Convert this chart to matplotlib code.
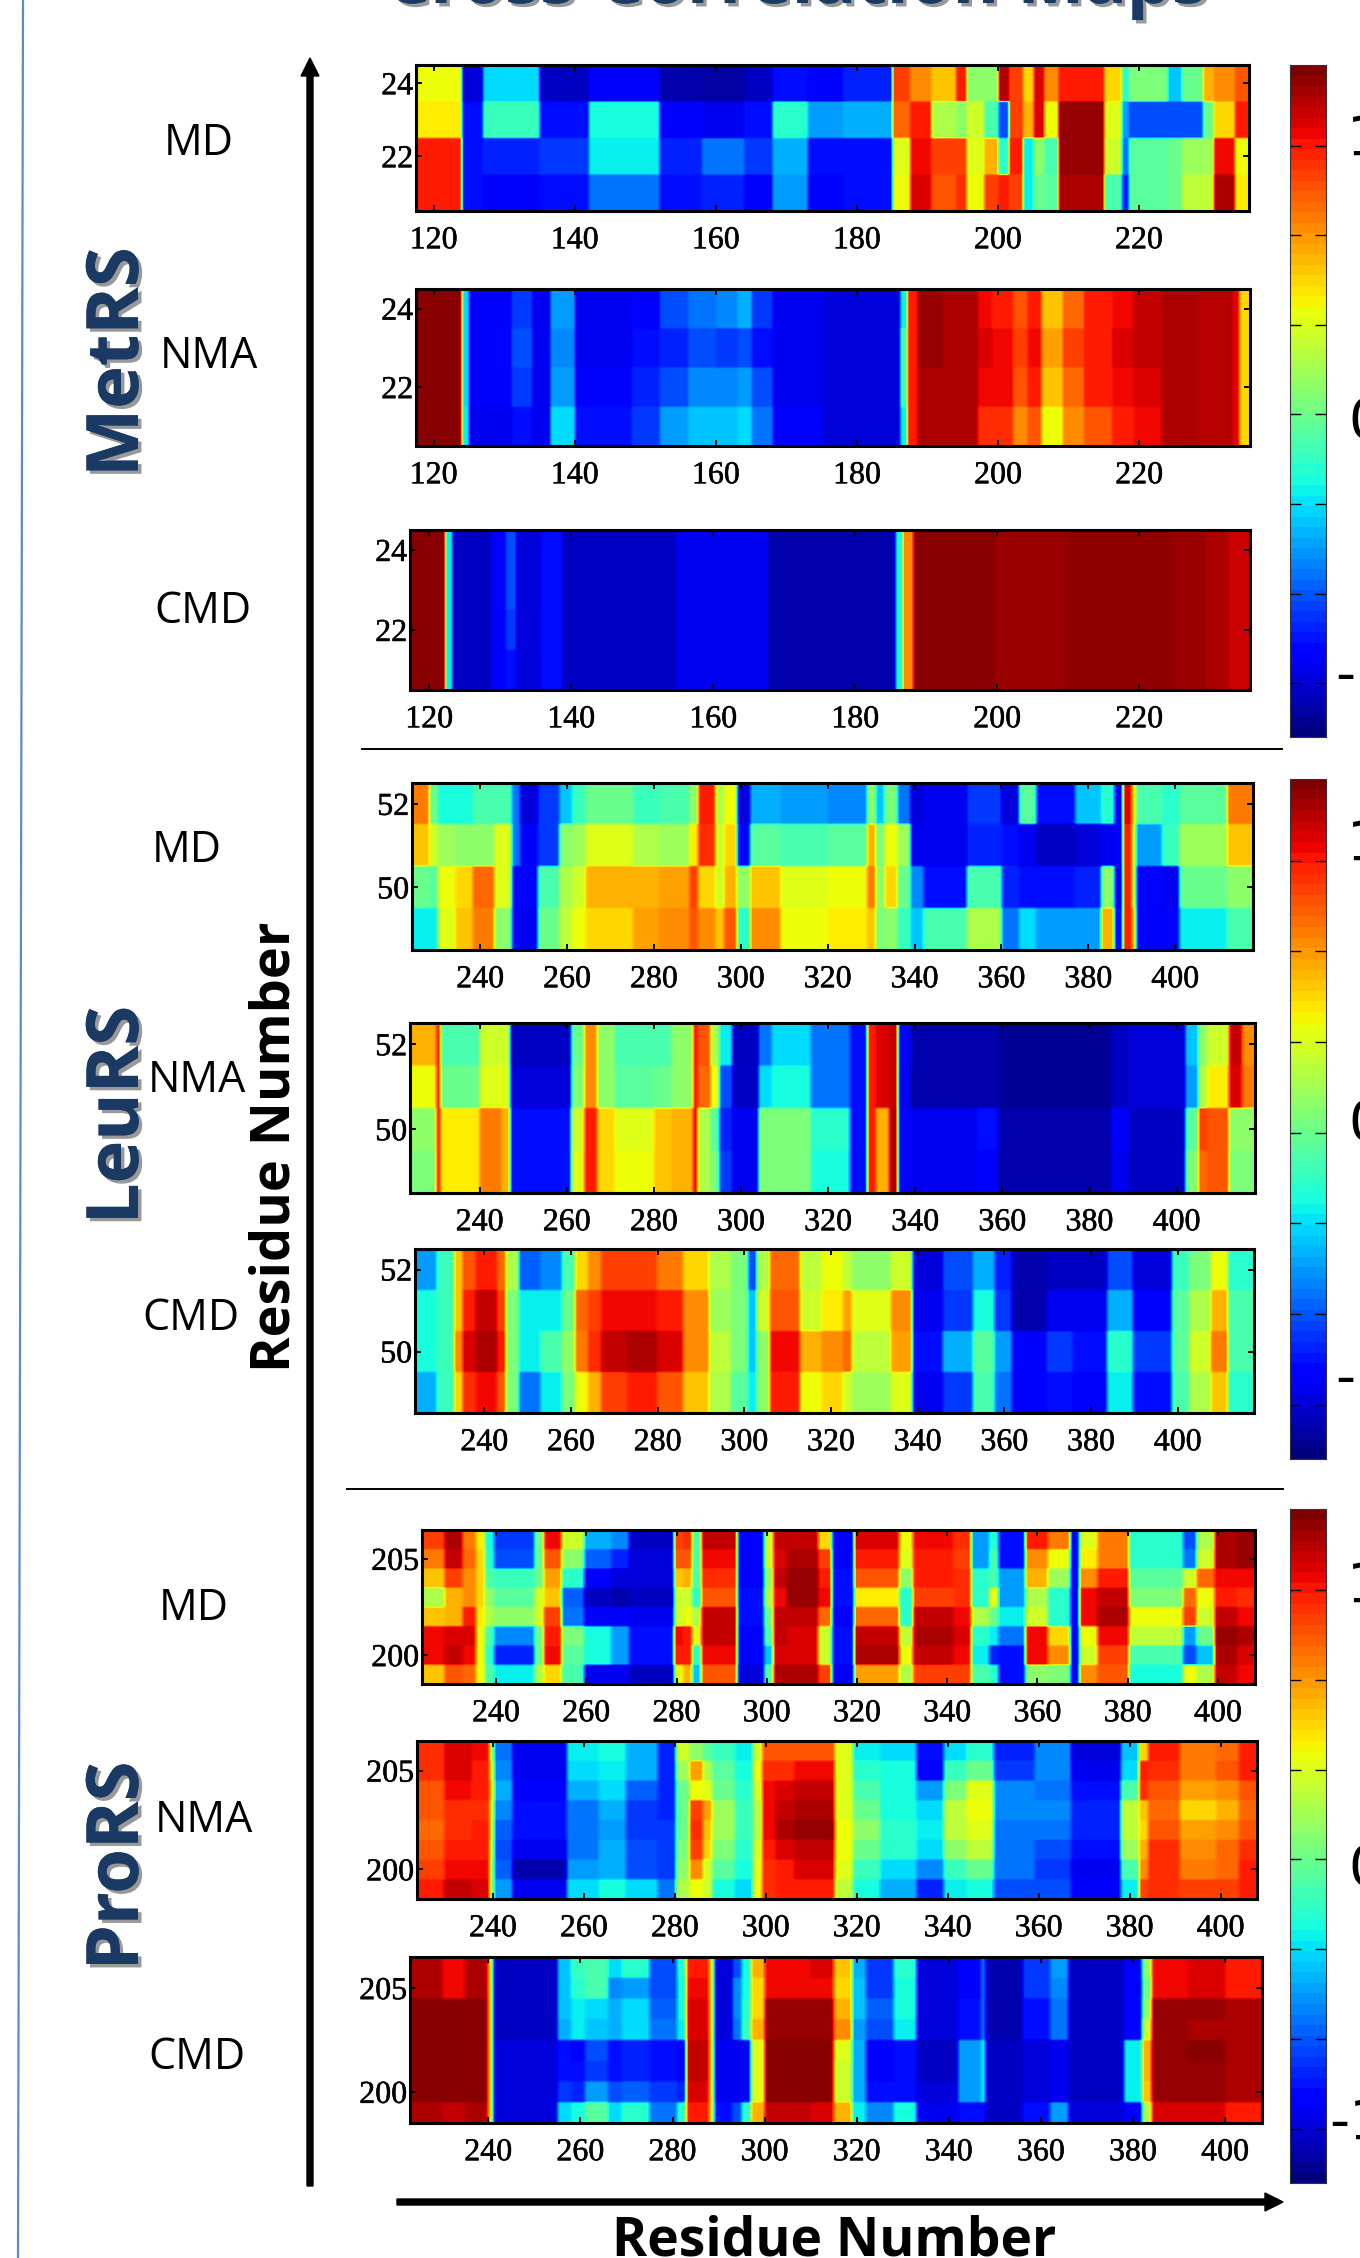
import numpy as np
import matplotlib
matplotlib.use("Agg")
import matplotlib.pyplot as plt
import matplotlib.patheffects as pe

W, H = 1360, 2258
VMIN, VMAX = -1.2, 1.3
CBAR_TICKS = [-1, -2 / 3, -1 / 3, 0, 1 / 3, 2 / 3, 1]

# each values list has one entry per residue block, rows given top to bottom
MET_MD_EDGES = [117.5, 124, 127, 135, 142, 152, 158, 164, 168, 173, 178, 185, 187.5, 190.5, 194, 195.5, 198, 200, 201.5, 203.5, 205, 206.5, 208.5, 215, 217.5, 218.5, 224, 226, 229, 230.5, 233.5, 235.6]
MET_MD_VALUES = [
    [.4, .45, 1.0, 1.0], [-1.0, -.85, -.85, -.85], [-.35, -.15, -.8, -.9], [-1.05, -.85, -.75, -.85],
    [-.9, -.25, -.3, -.6], [-1.1, -.9, -.8, -.85], [-1.12, -.95, -.6, -.8], [-1.05, -.85, -.75, -.9],
    [-.85, -.2, -.45, -.5], [-.9, -.5, -.85, -.9], [-.8, -.45, -.85, -.85], [.9, .8, .35, .4],
    [.7, 1.0, 1.05, 1.1], [.55, .2, .9, .85], [1.0, .1, .9, .95], [.1, .3, .35, .4],
    [.1, -.1, .6, .9], [1.2, -.7, -.2, 1.0], [.9, .9, 1.0, .9], [.5, .6, -.3, -.3],
    [1.1, 1.1, .1, 0], [.7, .4, -.1, -.05], [1.0, 1.25, 1.25, 1.2], [.5, .35, .3, -.1],
    [-.2, -.5, -.6, -.8], [.05, -.7, -.05, -.05], [-.4, -.7, 0, 0], [0, -.7, .15, .25],
    [.6, 0, .15, .25], [.7, .5, 1.05, 1.2], [.85, 1.0, .4, .45],
]

MET_NMA_EDGES = [117.5, 124, 125, 131, 134, 136.5, 140, 148, 152, 156, 160, 163, 165, 168, 175, 186, 187, 188.5, 192, 197, 199, 202, 204, 206, 209, 212, 216, 219, 223, 228, 233, 234, 235.7]
MET_NMA_VALUES = [
    [1.28, 1.28, 1.28, 1.28], [-.35, -.35, -.35, -.3], [-.9, -.9, -.9, -.95], [-.75, -.7, -.75, -.85],
    [-.95, -.95, -.95, -.95], [-.5, -.55, -.5, -.35], [-.95, -.95, -.9, -.85], [-.9, -.85, -.8, -.75],
    [-.7, -.8, -.7, -.5], [-.6, -.7, -.55, -.4], [-.55, -.75, -.55, -.4], [-.45, -.7, -.5, -.35],
    [-.75, -.85, -.7, -.6], [-.95, -.95, -.95, -.9], [-1.0, -1.0, -1.0, -1.0], [-.3, -.15, -.15, -.3],
    [1.0, 1.0, 1.0, 1.0], [1.25, 1.25, 1.2, 1.2], [1.2, 1.2, 1.2, 1.2], [1.05, 1.1, 1.05, .95],
    [1.0, 1.05, 1.05, .95], [.85, .9, .85, .7], [1.0, 1.05, 1.0, .85], [.55, .65, .55, .4],
    [.8, .9, .8, .7], [1.0, 1.0, 1.0, .85], [1.05, 1.1, 1.05, 1.0], [1.15, 1.15, 1.1, 1.05],
    [1.2, 1.2, 1.2, 1.2], [1.18, 1.18, 1.18, 1.18], [1.08, 1.08, 1.08, 1.08], [.5, .5, .5, .5],
]

MET_CMD_EDGES = [117.3, 122.5, 123.5, 129, 131, 132.5, 136, 139, 155, 168, 186, 187, 188.5, 200, 210, 225, 230, 233, 235.6]
MET_CMD_VALUES = [
    [1.28, 1.28, 1.28, 1.28], [-.3, -.3, -.3, -.3], [-1.05, -1.05, -1.05, -1.05], [-.9, -.9, -.9, -.9],
    [-.7, -.7, -.75, -.85], [-1.0, -1.0, -1.0, -1.0], [-.85, -.85, -.85, -.85], [-1.05, -1.05, -1.05, -1.05],
    [-.95, -.95, -.95, -.95], [-1.1, -1.1, -1.1, -1.1], [-.25, -.25, -.25, -.25], [.7, .7, .7, .7],
    [1.28, 1.28, 1.28, 1.28], [1.24, 1.24, 1.24, 1.24], [1.26, 1.26, 1.26, 1.26], [1.24, 1.24, 1.24, 1.24],
    [1.2, 1.2, 1.2, 1.2], [1.13, 1.13, 1.13, 1.13],
]

LEU_MD_EDGES = [224.3, 228, 230.3, 234, 238.5, 243, 247, 249, 253.5, 258, 261.7, 264.7, 275, 281, 288, 290, 294, 296, 299, 302, 309.5, 320, 329, 331, 333.5, 336.5, 339.5, 342.5, 352, 360, 364, 368, 377.5, 383, 386.5, 388, 390.3, 391.7, 397.7, 401.5, 412.6, 417.9]
LEU_MD_VALUES = [
    [.75, .55, 0, -.3], [0, .3, -.05, -.3], [-.25, .15, .4, .35], [-.25, .1, .5, .55],
    [-.1, .1, .8, .75], [-.1, .35, .35, .1], [-.6, -.6, -.9, -.9], [-1.0, -.9, -.9, -.95],
    [-.75, -.75, -.1, 0], [-.4, .1, .2, .25], [-.15, .15, .3, .4], [0, .35, .6, .5],
    [-.15, .2, .6, .65], [-.1, .15, .65, .7], [.1, .45, .9, .85], [1.0, .95, .5, .7],
    [.2, .3, .3, .55], [.4, .5, .6, .85], [-1.0, -.9, .1, -.2], [-.45, -.05, .55, .7],
    [-.5, -.1, .35, .4], [-.55, -.05, .4, .45], [.1, .6, .75, .55], [-.4, .05, .1, .05],
    [.05, .4, .5, .1], [-.6, .15, 0, -.15], [-1.0, -.95, -.55, -.4], [-.95, -.95, -.85, -.1],
    [-.75, -.8, -.1, .2], [-1.0, -.85, -.8, -.6], [-.05, -.95, -.85, -.35], [-.85, -1.05, -.85, -.5],
    [-.4, -1.0, -.8, -.5], [-.2, -.95, .1, .6], [-.9, -.9, -.95, -.85], [1.1, 1.0, 1.0, 1.0],
    [.5, .4, .4, .6], [-.1, -.5, -.9, -.9], [-.2, -.15, -.95, -.9], [-.05, .15, 0, -.3],
    [.75, .55, .1, -.1],
]

LEU_NMA_EDGES = [224, 230, 231.3, 240, 244.5, 247, 261, 264, 267, 270.6, 279.6, 284, 288.6, 290.4, 293, 295.3, 297.5, 303.5, 306.5, 316, 325, 329, 330.5, 333.5, 336.4, 339.4, 354, 359, 385, 388.7, 402, 404.5, 406.6, 412, 415, 418]
LEU_NMA_VALUES = [
    [.6, .4, .1, .05], [1.0, 1.0, 1.0, 1.0], [-.1, 0, .45, .45], [.3, .35, .75, .75],
    [.3, .35, .6, .6], [-1.05, -1.0, -.85, -.85], [0, .05, .3, .35], [.7, .7, 1.0, 1.0],
    [.1, .1, .5, .5], [-.1, -.05, .35, .4], [-.1, 0, .55, .55], [.1, .1, .6, .6],
    [1.05, 1.05, 1.1, 1.1], [.85, .8, .2, .2], [.2, .4, -.05, .05], [-.3, -.7, -.8, -.75],
    [-1.05, -1.05, -.95, -.95], [-.6, -.35, .05, .05], [-.35, -.25, .05, .05], [-.6, -.6, -.2, -.25],
    [-.85, -.85, -.85, -.85], [1.0, 1.0, 1.0, 1.0], [1.1, 1.1, .6, .6], [1.15, 1.15, 1.2, 1.2],
    [-.9, -.95, -.9, -.9], [-1.1, -1.1, -.95, -.95], [-1.1, -1.1, -.85, -.9], [-1.15, -1.15, -1.1, -1.1],
    [-1.05, -1.05, -.9, -.95], [-1.0, -1.0, -1.05, -1.05], [-.4, -.5, -.05, .05], [.1, .2, .9, .8],
    [.3, .45, .85, .85], [1.15, 1.1, .1, .05], [.7, .75, .1, .05],
]

LEU_CMD_EDGES = [224, 229.2, 233, 235, 238, 243, 245, 248, 253, 257.7, 260.7, 263.7, 266.7, 272.7, 280, 286, 291.5, 296.7, 301, 302.7, 305.7, 312.5, 318, 322.5, 325.3, 334.3, 338.8, 346.3, 353, 358.3, 362, 369.6, 376.3, 383.9, 390, 399, 403.4, 408, 411.6, 417.6]
LEU_CMD_VALUES = [
    [-.5, -.25, -.25, -.45], [-.15, -.15, -.15, -.15], [.55, .55, .7, .5], [.85, 1.0, 1.1, .95],
    [1.0, 1.15, 1.2, 1.05], [.8, .9, 1.0, .85], [.2, .05, .05, .05], [-.65, -.3, -.3, -.6],
    [-.55, -.3, -.1, -.3], [-.1, 0, .1, .05], [.5, .8, .75, .4], [.7, .9, .95, .6],
    [.9, 1.05, 1.15, .9], [.9, 1.05, 1.2, 1.0], [.75, 1.0, 1.1, .85], [.5, .7, .7, .55],
    [.2, .15, .25, .2], [.05, .05, .05, -.05], [-.7, -.4, -.4, -.3], [.2, .3, .1, .1],
    [.8, .85, 1.05, 1.0], [.25, .3, .6, .4], [.4, .45, .7, .5], [.25, .65, .8, .3],
    [.1, .35, .25, .15], [.3, .7, .65, .35], [-1.0, -.95, -.85, -.95], [-.7, -.75, -.45, -.75],
    [-.45, -.25, -.05, -.1], [-.8, -.75, -.5, -.6], [-1.1, -1.1, -.9, -.9], [-1.05, -.95, -.75, -.85],
    [-1.05, -.95, -.85, -.9], [-.7, -.45, -.2, -.3], [-1.0, -.9, -.75, -.85], [-.15, -.05, -.05, -.1],
    [.05, .2, .3, .2], [.4, .6, .75, .55], [-.2, -.1, -.1, -.2],
]

PRO_MD_EDGES = [223.6, 228.5, 233, 235.7, 237.4, 240, 248.6, 250.5, 254.4, 260, 265.9, 269.5, 279.6, 281.8, 284, 285.4, 293.3, 299.8, 302, 305, 311.3, 315, 319.3, 329.3, 332.2, 341.6, 345.9, 349.5, 352, 358, 362.5, 368, 369.5, 373.7, 381, 392.6, 395.5, 400, 405, 408.2]
PRO_MD_VALUES = [
    [.9, .75, .55, .2, .55, 1.05, 1.05, .55], [1.2, 1.15, .9, .6, .6, 1.1, 1.15, .85],
    [.75, .8, .7, .7, 1.0, 1.1, 1.05, .8], [.45, .5, .5, .5, .45, .4, .4, .4],
    [-.25, -.2, -.1, .1, .2, -.1, -.2, -.1], [-.75, -.7, -.15, -.05, .1, -.55, -.8, -.3],
    [0, 0, 0, .3, .3, 0, 0, .2], [1.05, .85, .65, .55, .9, 1.0, 1.05, .5],
    [.3, .1, -.2, -.65, -.6, .05, -.05, -.1], [-.45, -.65, -.9, -1.05, -.9, -.25, -.25, -.95],
    [-.55, -.8, -1.0, -1.1, -.9, -.5, -.5, -.95], [-1.05, -1.0, -1.0, -1.05, -.95, -.85, -.85, -1.05],
    [.9, .85, .55, .3, .3, 1.05, 1.0, .4], [.95, .85, .6, .3, .4, 1.0, 1.0, .6],
    [-.1, -.1, -.1, -.2, .2, .35, -.2, -.4], [1.15, 1.05, .95, .85, 1.15, 1.15, 1.05, .85],
    [-.9, -.9, -.9, -.85, -.85, -.9, -.9, -1.0], [.3, .3, .1, .2, 0, -.1, -.4, -.1],
    [1.15, 1.1, 1.15, 1.05, 1.15, 1.15, 1.1, 1.2], [1.15, 1.2, 1.25, 1.25, 1.15, 1.1, 1.1, 1.2],
    [.5, .9, 1.0, 1.05, .8, .3, .3, .9], [-.9, -.9, -.85, -.85, -.9, -.85, -.85, -.95],
    [1.1, 1.0, .85, .45, .8, 1.15, 1.2, .65], [.4, .35, .1, -.2, -.2, .25, .4, .2],
    [1.05, 1.0, 1.0, .9, 1.15, 1.2, 1.15, .9], [.95, .9, .95, .95, 1.05, 1.1, 1.05, .9],
    [-.5, -.5, -.2, -.2, .2, -.2, -.3, -.1], [-.2, -.1, -.1, .4, 0, -.3, -.8, -.2],
    [-.85, -.85, -.5, -.5, -.3, -.6, -.85, -.85], [1.0, .7, .6, .2, .3, 1.05, 1.05, .1],
    [.75, .4, .15, -.2, -.2, .5, .7, .05], [-.9, -.9, -.9, -.9, -.9, -.9, -.9, -.9],
    [.35, .45, .7, 1.05, 1.05, .4, .3, .7], [.75, .75, 1.0, 1.15, 1.2, 1.05, .9, .85],
    [-.2, -.2, -.05, .05, .4, .25, -.1, -.25], [-.7, -.6, .3, .8, .9, -.5, -.7, .4],
    [.2, .3, .8, .4, .3, 0, -.4, .2], [1.2, 1.2, 1.05, 1.0, 1.15, 1.25, 1.2, 1.15],
    [1.25, 1.25, 1.05, .95, 1.05, 1.2, 1.1, 1.05],
]

PRO_NMA_EDGES = [223.3, 229, 235, 239, 240.7, 244.3, 256.5, 263, 269.4, 276.5, 280, 283, 286, 288.6, 293.7, 297.3, 299.5, 302.3, 306.6, 315, 319.5, 325.2, 333, 338.8, 344.6, 350.3, 359.6, 366.8, 378.3, 382.5, 384, 391, 399, 404.7, 408]
PRO_NMA_VALUES = [
    [.95, .95, .85, .85, .8, .85, .9, 1.0], [1.1, 1.1, 1.05, .95, .95, 1.0, 1.05, 1.15],
    [1.05, 1.0, 1.0, .95, 1.0, 1.0, 1.05, 1.1], [.2, .4, .5, .4, .4, .3, .2, .15],
    [-.6, -.55, -.45, -.55, -.65, -.7, -.65, -.5], [-.95, -.95, -.9, -.85, -.85, -.95, -1.1, -.95],
    [-.3, -.35, -.45, -.6, -.6, -.6, -.5, -.35], [-.25, -.3, -.35, -.45, -.5, -.45, -.45, -.25],
    [-.45, -.45, -.65, -.75, -.75, -.7, -.7, -.35], [-.8, -.8, -.8, -.8, -.75, -.75, -.75, -.6],
    [.3, .15, 0, 0, 0, .05, .1, .2], [.1, .65, .4, .9, .95, .9, .7, .4],
    [-.05, .2, .35, .65, .55, .5, .3, .3], [-.15, -.05, 0, .15, .15, .05, -.05, -.25],
    [-.3, -.25, -.2, -.15, -.15, -.2, -.25, -.35], [.3, .4, .3, .2, .2, .3, .35, .4],
    [.85, .95, 1.05, 1.05, 1.05, 1.0, .95, .95], [.85, .95, 1.1, 1.15, 1.2, 1.1, 1.0, 1.0],
    [.85, 1.05, 1.15, 1.2, 1.25, 1.15, 1.1, 1.0], [.35, .35, .35, .35, .4, .4, .35, .25],
    [-.3, -.2, -.1, 0, .1, 0, -.15, -.25], [-.35, -.25, -.25, -.25, -.2, -.2, -.35, -.45],
    [-.85, -.9, -.5, -.35, -.3, -.35, -.55, -.8], [-.35, -.15, .05, .25, .25, .1, -.15, -.3],
    [-.2, 0, .35, .4, .35, .25, 0, -.25], [-.8, -.75, -.55, -.55, -.6, -.6, -.6, -.7],
    [-.55, -.55, -.6, -.55, -.6, -.7, -.75, -.7], [-1.0, -.95, -.85, -.8, -.8, -.85, -.95, -.9],
    [-.4, -.35, -.1, .25, .25, .15, -.1, -.3], [.5, 1.0, .95, .55, .5, .6, .7, .9],
    [1.0, .95, .85, .8, .85, .95, .95, .95], [.75, .75, .65, .5, .65, .7, .75, .9],
    [.8, .85, .7, .6, .7, .8, .8, .9], [1.0, 1.0, .85, .8, .85, .95, 1.0, 1.0],
]

PRO_CMD_EDGES = [223, 230.4, 234.6, 240.3, 241.4, 255, 258, 260.8, 265.7, 268.6, 274.9, 280.6, 282.7, 287.6, 288.6, 293.3, 295.4, 297.1, 299.6, 309.5, 315.2, 319.4, 322.3, 328, 332.9, 342, 347, 348.4, 356.2, 361.8, 366, 378, 381.6, 383.7, 391.5, 400, 408]
PRO_CMD_VALUES = [
    [1.2, 1.2, 1.28, 1.28, 1.28, 1.28, 1.28, 1.2], [1.05, 1.05, 1.28, 1.28, 1.28, 1.28, 1.28, 1.15],
    [1.2, 1.2, 1.28, 1.28, 1.28, 1.28, 1.28, 1.2], [.45, .45, .45, .45, .45, .45, .45, .45],
    [-1.05, -1.05, -1.05, -1.05, -1.0, -1.0, -1.0, -1.0], [-.4, -.4, -.4, -.45, -.85, -.85, -.75, -.35],
    [-.15, -.2, -.3, -.3, -.9, -.85, -.8, -.25], [-.1, -.1, -.35, -.4, -.7, -.75, -.5, -.05],
    [-.35, -.55, -.45, -.45, -.85, -.85, -.7, -.35], [-.2, -.5, -.35, -.35, -.8, -.8, -.65, -.2],
    [-.7, -.7, -.65, -.6, -.85, -.85, -.75, -.6], [-.2, -.25, -.25, -.3, -.9, -.9, -.8, -.2],
    [1.0, 1.05, 1.1, 1.1, 1.15, 1.15, 1.1, 1.0], [.45, .45, .45, .45, .45, .45, .45, .45],
    [-1.0, -1.0, -1.0, -1.0, -.95, -.95, -.95, -.85], [-.7, -.55, -.55, -.6, -.95, -.95, -.95, -.7],
    [-.25, -.25, -.2, -.15, -.9, -.9, -.9, -.2], [.6, .5, .5, .6, .35, .35, .35, .6],
    [1.05, 1.05, 1.25, 1.25, 1.28, 1.28, 1.28, 1.15], [1.1, 1.05, 1.25, 1.25, 1.28, 1.28, 1.28, 1.1],
    [.55, .5, .6, .7, .35, .3, .3, .6], [-.45, -.4, -.4, -.5, -.45, -.45, -.45, -.3],
    [-.75, -.75, -.65, -.7, -.9, -.9, -.85, -.55], [-.2, -.25, -.25, -.3, -.85, -.85, -.85, -.25],
    [-1.0, -1.0, -1.0, -1.0, -1.05, -1.05, -1.0, -.95], [-.9, -.9, -.85, -.85, -.5, -.5, -.5, -.85],
    [-.6, -.6, -.6, -.6, -.3, -.3, -.3, -.85], [-1.1, -1.1, -1.1, -1.1, -1.05, -1.05, -1.05, -1.05],
    [-.75, -.75, -.85, -.85, -1.0, -1.0, -1.0, -.85], [-.5, -.55, -.6, -.6, -.95, -.95, -.95, -.5],
    [-1.05, -1.05, -1.05, -1.05, -1.05, -1.05, -1.05, -1.0], [-.9, -.9, -.9, -.9, -.3, -.3, -.3, -.9],
    [.1, 0, .1, .3, .6, .6, .55, .2], [1.05, 1.05, 1.25, 1.25, 1.25, 1.25, 1.25, 1.1],
    [1.1, 1.1, 1.25, 1.2, 1.28, 1.25, 1.25, 1.1], [1.0, 1.0, 1.2, 1.2, 1.2, 1.2, 1.2, 1.0],
]

MET_XTICKS = [120, 140, 160, 180, 200, 220]
LEU_XTICKS = [240, 260, 280, 300, 320, 340, 360, 380, 400]
PRO_XTICKS = [240, 260, 280, 300, 320, 340, 360, 380, 400]

# edges, values, x ticks, y range, y ticks, box in pixels (left, top, right, bottom), residue step
panels = [
    (MET_MD_EDGES, MET_MD_VALUES, MET_XTICKS, (20.5, 24.5), [22, 24], (416, 65, 1249, 211), 0.5),
    (MET_NMA_EDGES, MET_NMA_VALUES, MET_XTICKS, (20.5, 24.5), [22, 24], (416, 289, 1250, 446), 0.5),
    (MET_CMD_EDGES, MET_CMD_VALUES, MET_XTICKS, (20.5, 24.5), [22, 24], (410, 530, 1250, 690), 0.5),
    (LEU_MD_EDGES, LEU_MD_VALUES, LEU_XTICKS, (48.5, 52.5), [50, 52], (412, 783, 1253, 950), 1),
    (LEU_NMA_EDGES, LEU_NMA_VALUES, LEU_XTICKS, (48.5, 52.5), [50, 52], (410, 1023, 1255, 1193), 1),
    (LEU_CMD_EDGES, LEU_CMD_VALUES, LEU_XTICKS, (48.5, 52.5), [50, 52], (415, 1249, 1254, 1413), 1),
    (PRO_MD_EDGES, PRO_MD_VALUES, PRO_XTICKS, (198.5, 206.5), [200, 205], (422, 1530, 1255, 1684), 1),
    (PRO_NMA_EDGES, PRO_NMA_VALUES, PRO_XTICKS, (198.5, 206.5), [200, 205], (417, 1741, 1257, 1899), 1),
    (PRO_CMD_EDGES, PRO_CMD_VALUES, PRO_XTICKS, (198.5, 206.5), [200, 205], (410, 1957, 1262, 2123), 1),
]

fig = plt.figure(figsize=(W / 100, H / 100), dpi=100, facecolor="white")
cmap = plt.get_cmap("jet", 256)
cbar_cmap = plt.get_cmap("jet", 64)


def px_axes(left, top, right, bottom):
    return fig.add_axes([left / W, 1 - bottom / H, (right - left) / W, (bottom - top) / H])


def residue_grid(edges, values, step, n_rows):
    # blocks to a residue grid, rows repeated so the smoothing stays near row borders
    centres = np.arange(edges[0] + step / 2, edges[-1], step)
    which = np.clip(np.searchsorted(edges, centres) - 1, 0, len(values) - 1)
    table = np.array(values)[which].T
    return np.repeat(table, 64 // n_rows, axis=0)


# page level axes in pixels, for the labels and arrows
page = fig.add_axes([0, 0, 1, 1])
page.set_xlim(0, W)
page.set_ylim(H, 0)
page.axis("off")

heavy = [pe.withStroke(linewidth=0.35, foreground="black")]

for edges, values, xticks, ylim, yticks, box, step in panels:
    ax = px_axes(*box)
    grid = residue_grid(edges, values, step, int(ylim[1] - ylim[0]))
    ax.imshow(grid, aspect="auto", cmap=cmap, vmin=VMIN, vmax=VMAX, interpolation="bilinear",
              interpolation_stage="data", extent=(edges[0], edges[-1], ylim[0], ylim[1]))
    ax.set_xlim(edges[0], edges[-1])
    ax.set_ylim(*ylim)
    ax.set_xticks(xticks)
    ax.set_yticks(yticks)
    ax.tick_params(direction="in", top=True, right=True, length=4, width=1.4, pad=2,
                   labelsize=23, labelfontfamily="Liberation Serif")
    ax.tick_params(axis="x", pad=11)
    for label in ax.get_xticklabels() + ax.get_yticklabels():
        label.set_path_effects(heavy)
    for spine in ax.spines.values():
        spine.set_linewidth(2.2)

# colorbars
colorbars = [(65, 737, 140, 423, 677, 1335), (779, 1459, 845, 1125, 1380, 1335), (1509, 2183, 1587, 1870, 2124, 1329)]
for top, bottom, y_one, y_zero, y_minus, x_minus in colorbars:
    cax = px_axes(1290, top, 1326, bottom)
    gradient = np.linspace(VMIN, VMAX, 64)[:, None]
    cax.imshow(gradient, aspect="auto", origin="lower", cmap=cbar_cmap, vmin=VMIN, vmax=VMAX, extent=(0, 1, VMIN, VMAX))
    cax.set_xticks([])
    cax.set_yticks(CBAR_TICKS)
    cax.set_yticklabels([])
    cax.tick_params(direction="in", left=True, right=True, length=8, width=1.0)
    for spine in cax.spines.values():
        spine.set_linewidth(0.8)
        spine.set_color("#333333")
    page.text(1347, y_one, "1", fontsize=40, va="center", ha="left", family="DejaVu Sans")
    page.text(1348, y_zero, "0", fontsize=40, va="center", ha="left", family="DejaVu Sans")
    page.text(x_minus, y_minus, "-1", fontsize=40, va="center", ha="left", family="DejaVu Sans")

# method labels
method_labels = [
    ("MD", 199, 144), ("NMA", 209, 357), ("CMD", 203, 612),
    ("MD", 187, 851), ("NMA", 197, 1081), ("CMD", 191, 1319),
    ("MD", 194, 1609), ("NMA", 204, 1821), ("CMD", 197, 2058),
]
for text, x, y in method_labels:
    page.text(x, y, text, fontsize=31, family="Open Sans", ha="center", va="center")

# enzyme labels with a soft shadow
navy = "#1a3a63"
shadow = [pe.withSimplePatchShadow(offset=(2.5, -2.5), shadow_rgbFace="#555555", alpha=0.6), pe.Normal()]
for text, y in [("MetRS", 362), ("LeuRS", 1115), ("ProRS", 1866)]:
    page.text(119, y, text, fontsize=52, family="Open Sans", fontweight="bold", color=navy,
              rotation=90, ha="center", va="center", path_effects=shadow)

page.text(796, 3, "Cross-Correlation Maps", fontsize=51, family="Open Sans", fontweight="bold",
          color=navy, ha="center", va="baseline", path_effects=shadow)

page.text(276, 1147, "Residue Number", fontsize=39, family="Open Sans", fontweight="bold",
          rotation=90, ha="center", va="center")
page.text(834, 2256, "Residue Number", fontsize=38.5, family="Open Sans", fontweight="bold",
          ha="center", va="baseline")

# axis arrows
page.arrow(310, 2186, 0, -2128, width=6, head_width=18, head_length=18, length_includes_head=True, color="black")
page.arrow(397, 2202, 886, 0, width=6, head_width=18, head_length=18, length_includes_head=True, color="black")

# separators and page edge
page.plot([362, 1282], [749, 749], color="black", lw=1.4)
page.plot([347, 1283], [1489, 1489], color="black", lw=1.4)
page.plot([23, 18], [0, 2258], color="#5b8bc9", lw=1.6)

fig.savefig("out.png", dpi=100)
